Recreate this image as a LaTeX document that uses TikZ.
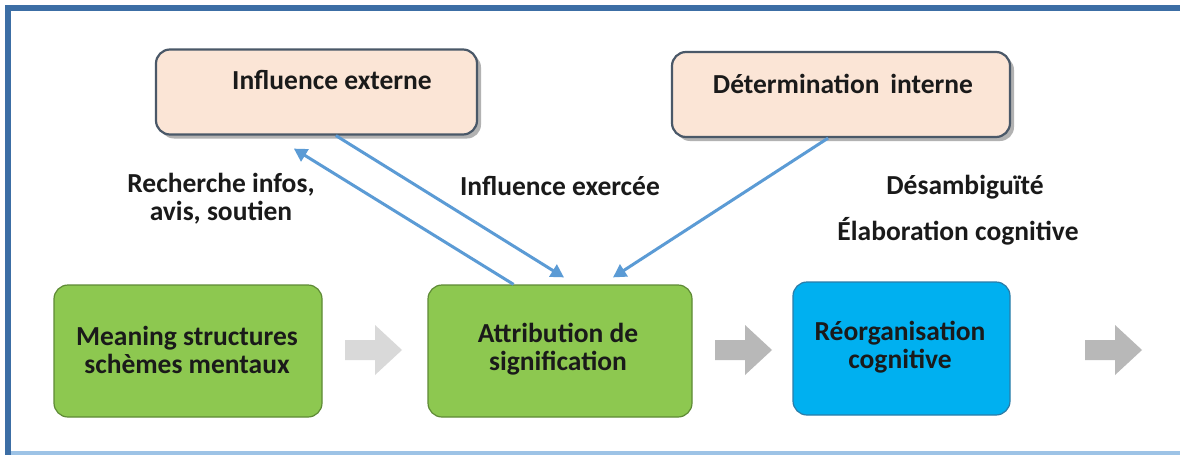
\documentclass[tikz,border=0pt]{standalone}
\usepackage{fontspec}
\setmainfont{Carlito}
\usetikzlibrary{arrows.meta,shadows,calc}
\definecolor{frameblue}{HTML}{3C6EA5}
\definecolor{framelight}{HTML}{9DC3E6}
\definecolor{peach}{HTML}{FBE5D6}
\definecolor{peachline}{HTML}{4A5868}
\definecolor{grfill}{HTML}{8DC850}
\definecolor{grline}{HTML}{5E8A35}
\definecolor{blfill}{HTML}{00B0F0}
\definecolor{blline}{HTML}{2A7CA8}
\definecolor{arrblue}{HTML}{5B9BD5}
\definecolor{txt}{HTML}{1A1A1A}
\tikzset{
  peachbox/.style={draw=peachline, line width=2.2pt, fill=peach, rounded corners=14pt,
    drop shadow={shadow xshift=4pt, shadow yshift=-4pt, fill=black!55, opacity=0.55}},
  greenbox/.style={draw=grline, line width=1.2pt, fill=grfill, rounded corners=14pt},
  bluebox/.style={draw=blline, line width=1.2pt, fill=blfill, rounded corners=14pt},
  lbl/.style={font=\fontsize{27.5}{28}\selectfont\bfseries, text=txt, align=center, inner sep=0pt},
  conn/.style={draw=arrblue, line width=3pt, -{Triangle[width=14pt,length=13pt]}},
}
\begin{document}
\begin{tikzpicture}[x=1pt,y=-1pt]
\useasboundingbox (0,0) rectangle (1180,455);
\fill[white] (0,0) rectangle (1180,455);
% frame
\fill[frameblue] (5,5) rectangle (1180,11);
\fill[frameblue] (5,5) rectangle (11,455);
\fill[framelight] (11,451) rectangle (1180,455);

% top boxes
\node[peachbox, minimum width=321pt, minimum height=85pt] (ie) at (316.5,92) {};
\node[lbl] (iet) at (332,80) {Influence externe};
\node[peachbox, minimum width=338pt, minimum height=85pt] (di) at (841,94.5) {};
\node[lbl] (dit) at (843,84) {Détermination\, interne};

% bottom boxes
\node[greenbox, minimum width=268pt, minimum height=132pt] (ms) at (188,351) {};
\node[lbl] (mst) at (187,350) {Meaning structures\\schèmes mentaux};
\node[greenbox, minimum width=264pt, minimum height=132pt] (at) at (560,351) {};
\node[lbl] (att) at (558,349) {Attribution de\\signification};
\node[bluebox, minimum width=217pt, minimum height=133pt] (ro) at (901.5,348.5) {};
\node[lbl] (rot) at (900,347) {Réorganisation\\cognitive};

% gray block arrows
\fill[black!15] (345,340) -- (375,340) -- (375,325) -- (402,350) -- (375,375) -- (375,360) -- (345,360) -- cycle;
\fill[black!28] (715,340) -- (745,340) -- (745,325) -- (772,350) -- (745,375) -- (745,360) -- (715,360) -- cycle;
\fill[black!28] (1085,340) -- (1115,340) -- (1115,325) -- (1142,350) -- (1115,375) -- (1115,360) -- (1085,360) -- cycle;

% connectors
\coordinate (s1) at ($(at.north west)!0.325!(at.north east)$);
\coordinate (e1) at ($(ie.south west)!0.43!(ie.south east)+(0,13)$);
\draw[conn] (s1) -- (e1);
\coordinate (s2) at ($(ie.south west)!0.56!(ie.south east)$);
\coordinate (e2) at ($(at.north west)!0.515!(at.north east)+(0,-7)$);
\draw[conn] (s2) -- (e2);
\coordinate (s3) at ($(di.south west)!0.462!(di.south east)$);
\coordinate (e3) at ($(at.north west)!0.70!(at.north east)+(0,-7)$);
\draw[conn] (s3) -- (e3);

% labels
\node[lbl] (l1) at (221,199) {Recherche infos,\\avis, soutien};
\node[lbl] (l2) at (560,186) {Influence exercée};
\node[lbl] (l3) at (965,187) {Désambiguïté};
\node[lbl] (l4) at (958,231) {Élaboration cognitive};
\end{tikzpicture}
\end{document}
